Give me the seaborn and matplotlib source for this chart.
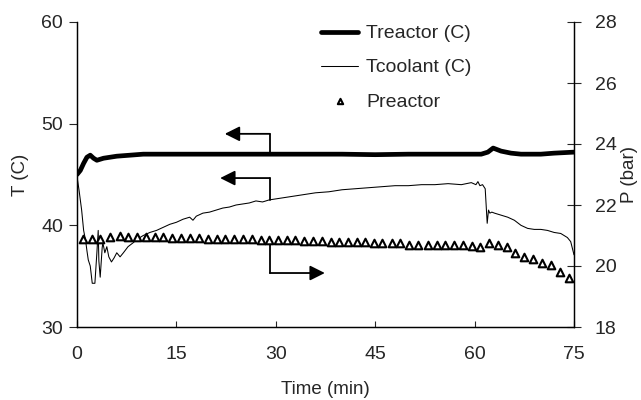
import matplotlib
matplotlib.use("Agg")
import matplotlib.pyplot as plt
import seaborn as sns
import pandas as pd

# ---------------- data ----------------
t_reactor = [0, 0.5, 1, 1.5, 2, 2.5, 3, 3.5, 4, 5, 6, 8, 10, 12, 15, 20, 25, 30,
             35, 40, 45, 50, 55, 60, 61, 62, 62.8, 64, 65.5, 67, 70, 72, 75]
T_reactor = [45.0, 45.4, 46.1, 46.7, 46.9, 46.6, 46.4, 46.5, 46.6, 46.7, 46.8, 46.9,
             47.0, 47.0, 47.0, 47.0, 47.0, 47.0, 47.0, 47.0, 46.95, 47.0, 47.0, 47.0,
             47.0, 47.2, 47.6, 47.3, 47.1, 47.0, 47.0, 47.1, 47.2]

t_coolant = [0, 0.3, 0.7, 1.0, 1.3, 1.5, 1.7, 2.0, 2.3, 2.7, 3.0, 3.2, 3.3, 3.5, 3.8,
             3.9, 4.2, 4.5, 4.8, 5.2, 5.6, 6.0, 6.5, 7.0, 7.7, 8.5, 9.0, 10, 11, 12,
             13, 14, 15, 16, 17, 17.5, 18, 19, 20, 21, 22, 23, 24, 25, 26, 27, 28, 29,
             30, 32, 34, 36, 38, 40, 42, 44, 46, 48, 50, 52, 54, 56, 58, 59.5, 60.2,
             60.5, 60.8, 61.2, 61.6, 61.9, 62.1, 62.3, 62.6, 63, 64, 65, 66, 67, 68,
             69, 70, 71, 72, 73, 74, 74.5, 75]
T_coolant = [44.8, 43.5, 41.5, 39.5, 38.5, 37.5, 36.6, 36.0, 34.3, 34.3, 37.3, 39.5,
             36.5, 34.9, 37.8, 38.3, 37.3, 37.9, 36.9, 36.4, 36.8, 37.3, 36.9, 37.3,
             37.9, 38.3, 38.6, 39.0, 39.3, 39.5, 39.8, 40.1, 40.3, 40.6, 40.8, 40.5,
             40.9, 41.2, 41.3, 41.5, 41.7, 41.8, 42.0, 42.1, 42.2, 42.4, 42.3, 42.5,
             42.6, 42.8, 43.0, 43.2, 43.3, 43.5, 43.6, 43.7, 43.8, 43.9, 43.9, 44.0,
             44.0, 44.1, 44.0, 44.2, 44.0, 44.3, 43.9, 44.0, 43.6, 40.2, 41.5, 41.2,
             41.3, 41.2, 41.0, 40.8, 40.5, 40.0, 39.7, 39.6, 39.6, 39.5, 39.3, 39.2,
             38.8, 38.4, 37.1]

t_press = [0.95, 2.2, 3.5, 5.0, 6.5, 7.7, 9.0, 10.4, 11.7, 13.0, 14.4, 15.7, 17.1,
           18.4, 19.7, 21.1, 22.4, 23.7, 25.1, 26.4, 27.7, 29.0, 30.4, 31.7, 32.9,
           34.3, 35.6, 36.9, 38.3, 39.6, 40.9, 42.2, 43.5, 44.8, 46.1, 47.5, 48.7,
           50.1, 51.5, 52.9, 54.3, 55.5, 56.9, 58.2, 59.6, 60.8, 62.2, 63.5, 64.9,
           66.1, 67.5, 68.8, 70.2, 71.5, 72.9, 74.2]
P_reactor = [20.9, 20.9, 20.9, 20.95, 21.0, 20.95, 20.95, 20.95, 20.95, 20.95,
             20.92, 20.92, 20.92, 20.92, 20.9, 20.9, 20.9, 20.9, 20.9, 20.9,
             20.85, 20.85, 20.85, 20.85, 20.85, 20.82, 20.82, 20.82, 20.8, 20.8,
             20.8, 20.8, 20.8, 20.74, 20.74, 20.74, 20.74, 20.69, 20.69, 20.69,
             20.69, 20.69, 20.69, 20.69, 20.66, 20.62, 20.75, 20.69, 20.61, 20.42,
             20.30, 20.22, 20.11, 20.03, 19.81, 19.60]

x_ticks = [0, 15, 30, 45, 60, 75]
T_ticks = [30, 40, 50, 60]
P_ticks = [18, 20, 22, 24, 26, 28]

assert len(t_reactor) == len(T_reactor)
assert len(t_coolant) == len(T_coolant)
assert len(t_press) == len(P_reactor)

df_r = pd.DataFrame({"t": t_reactor, "T": T_reactor})
df_c = pd.DataFrame({"t": t_coolant, "T": T_coolant})
df_p = pd.DataFrame({"t": t_press, "P": P_reactor})

# ---------------- style ----------------
sns.set_style("ticks")
plt.rcParams["font.family"] = ["Liberation Sans", "DejaVu Sans"]

fig = plt.figure(figsize=(6.41, 4.0), dpi=100)
ax = fig.add_axes([77 / 641, 1 - 327 / 400, (574 - 77) / 641, (327 - 22) / 400])
ax2 = ax.twinx()

sns.lineplot(data=df_r, x="t", y="T", ax=ax, color="black", linewidth=3.4,
             label="Treactor (C)", legend=False)
sns.lineplot(data=df_c, x="t", y="T", ax=ax, color="black", linewidth=0.75,
             label="Tcoolant (C)", legend=False)
sns.scatterplot(data=df_p, x="t", y="P", ax=ax2, marker="^", s=30,
                facecolor="white", edgecolor="black", linewidth=1.5,
                label="Preactor", legend=False, zorder=3)

ax.set_xlim(0, 75)
ax.set_ylim(30, 60)
ax2.set_ylim(18, 28)
ax.set_xticks(x_ticks)
ax.set_yticks(T_ticks)
ax2.set_yticks(P_ticks)

tfs = 14
lfs = 13.5
ax.set_xlabel("Time (min)", fontsize=lfs, labelpad=13)
ax.set_ylabel("T (C)", fontsize=lfs, labelpad=9)
ax2.set_ylabel("P (bar)", fontsize=lfs, labelpad=3)
ax.tick_params(axis="x", direction="in", length=4, width=0.8, labelsize=tfs, pad=14)
ax.tick_params(axis="y", direction="out", length=6, width=0.8, labelsize=tfs, pad=4)
ax2.tick_params(axis="y", direction="inout", length=10, width=0.8, labelsize=tfs, pad=10)

for a in (ax, ax2):
    a.spines["top"].set_visible(False)
    for s in ("left", "bottom", "right"):
        a.spines[s].set_linewidth(0.9)
        a.spines[s].set_color("black")
ax.spines["right"].set_visible(True)

# ---------------- arrows ----------------
head = dict(arrowstyle="-|>,head_length=0.9,head_width=0.45", color="black",
            lw=1.3, shrinkA=0, shrinkB=0)
# Treactor -> left axis
ax.plot([29.1, 29.1], [47.0, 49.0], color="black", lw=1.3)
ax.annotate("", xy=(22.3, 49.0), xytext=(29.1, 49.0), arrowprops=head)
# Tcoolant -> left axis
ax.plot([29.1, 29.1], [42.5, 44.65], color="black", lw=1.3)
ax.annotate("", xy=(21.6, 44.65), xytext=(29.1, 44.65), arrowprops=head)
# Preactor -> right axis
ax2.plot([29.1, 29.1], [20.85, 19.77], color="black", lw=1.3)
ax2.annotate("", xy=(37.4, 19.77), xytext=(29.1, 19.77), arrowprops=head)

# ---------------- legend ----------------
h1, l1 = ax.get_legend_handles_labels()
h2, l2 = ax2.get_legend_handles_labels()
leg = fig.legend(h1 + h2, l1 + l2, loc="upper left", bbox_to_anchor=(0.474, 0.982),
                 frameon=False, fontsize=tfs, handlelength=1.9, handletextpad=0.4,
                 labelspacing=0.85, markerscale=0.7)

fig.savefig("out.png", dpi=100)
